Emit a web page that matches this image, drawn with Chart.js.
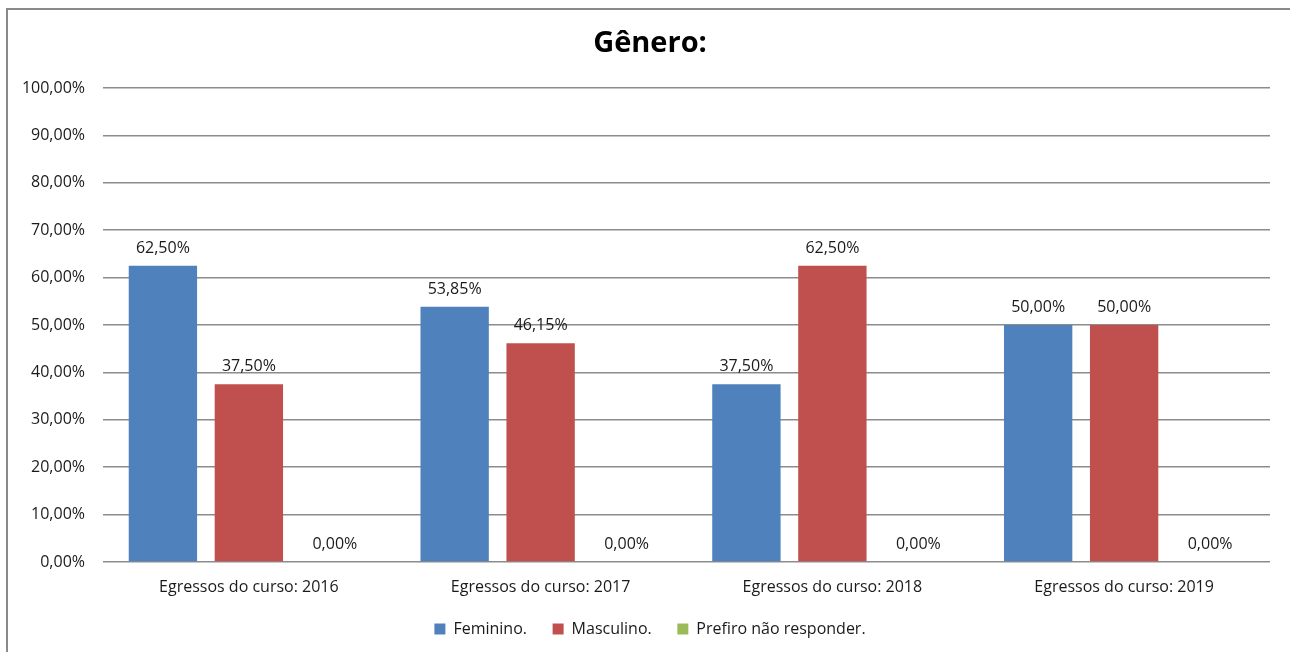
<!DOCTYPE html>
<html>
<head>
<meta charset="utf-8">
<script src="https://cdn.jsdelivr.net/npm/chart.js@4/dist/chart.umd.min.js"></script>
<style>
  html, body { margin: 0; padding: 0; background: #fff; overflow: hidden; }
  #frame { position: absolute; left: 6px; top: 8px; width: 1300px; height: 700px; border: 2px solid #8a8a8a; box-sizing: border-box; }
  #wrap { position: absolute; left: 0; top: 0; width: 1300px; height: 647px; }
</style>
</head>
<body>
<div id="frame"></div>
<div id="wrap"><canvas id="myChart"></canvas></div>
<script>
//Categories and series
const categories = ["Egressos do curso: 2016", "Egressos do curso: 2017", "Egressos do curso: 2018", "Egressos do curso: 2019"];
const feminino = [62.50, 53.85, 37.50, 50.00];
const masculino = [37.50, 46.15, 62.50, 50.00];
const naoResponder = [0, 0, 0, 0];
const yTicks = [0, 10, 20, 30, 40, 50, 60, 70, 80, 90, 100];

const font = "'Open Sans', 'Noto Sans', sans-serif";

//Formats numbers the portuguese way: 62,50%
let pct = (v) => v.toFixed(2).replace(".", ",") + "%";

//Draws the value over each bar since there is no datalabels plugin offline
const barLabels = {
  id: "barLabels",
  afterDatasetsDraw(chart) {
    const c = chart.ctx;
    c.save();
    c.font = "16px " + font;
    c.fillStyle = "#1a1a1a";
    c.textAlign = "center";
    c.textBaseline = "alphabetic";
    chart.data.datasets.forEach((ds, i) => {
      chart.getDatasetMeta(i).data.forEach((bar, j) => {
        c.fillText(pct(ds.data[j]), bar.x, bar.y - 13);
      });
    });
    c.restore();
  }
};

const ctx = document.getElementById("myChart").getContext("2d");
let myChart = new Chart(ctx, {
  type: "bar",
  data: {
    labels: categories,
    datasets: [
      { label: "Feminino.", data: feminino, backgroundColor: "#4F81BD" },
      { label: "Masculino.", data: masculino, backgroundColor: "#C0504D" },
      { label: "Prefiro não responder.", data: naoResponder, backgroundColor: "#9BBB59" }
    ]
  },
  options: {
    responsive: true,
    maintainAspectRatio: false,
    animation: false,
    layout: { padding: 0 },
    datasets: { bar: { categoryPercentage: 0.884, barPercentage: 0.795 } },
    scales: {
      x: {
        grid: { display: false, drawTicks: false },
        border: { display: false },
        ticks: { color: "#1a1a1a", font: { family: font, size: 16, lineHeight: 1 }, padding: 17 }
      },
      y: {
        min: 0,
        max: 100,
        afterFit: (scale) => { scale.width = 103; },
        afterBuildTicks: (scale) => { scale.ticks = yTicks.map(v => ({ value: v })); },
        grid: { color: "#8c8c8c", lineWidth: 1.5, drawTicks: false },
        border: { display: false },
        ticks: {
          color: "#1a1a1a",
          font: { family: font, size: 16 },
          padding: 18,
          callback: (v) => pct(v)
        }
      },
      //Empty axis on the right so the title and legend sit centred on the whole frame
      yRight: {
        position: "right",
        afterFit: (scale) => { scale.width = 30; },
        grid: { display: false },
        border: { display: false },
        ticks: { display: false }
      }
    },
    plugins: {
      title: {
        display: true,
        text: "Gênero:",
        color: "#000",
        font: { family: font, size: 29, weight: "bold" },
        padding: { top: 26.6, bottom: 26.6 }
      },
      legend: {
        position: "bottom",
        labels: {
          color: "#1a1a1a",
          font: { family: font, size: 16 },
          boxWidth: 11,
          boxHeight: 11,
          padding: 9,
          //Small padding keeps the legend low, so the gap between items is made with spaces
          generateLabels: (chart) => {
            const items = Chart.defaults.plugins.legend.labels.generateLabels(chart);
            items.forEach((it, i) => {
              if (i < items.length - 1) it.text += "\u00a0\u00a0\u00a0\u00a0";
            });
            return items;
          }
        }
      },
      tooltip: { enabled: false }
    }
  },
  plugins: [barLabels]
});
</script>
</body>
</html>
